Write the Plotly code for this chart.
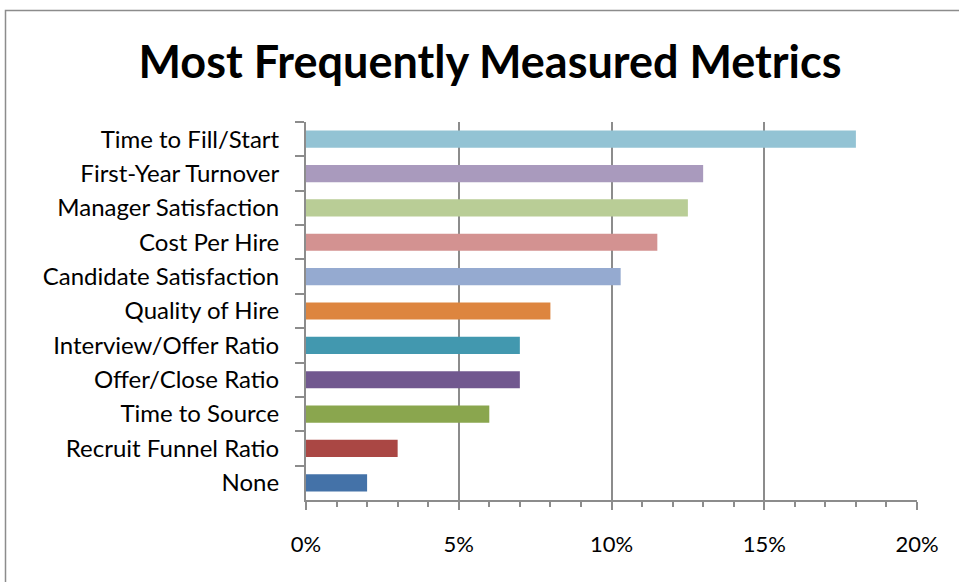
import plotly.graph_objects as go

categories = ["Time to Fill/Start", "First-Year Turnover", "Manager Satisfaction", "Cost Per Hire",
              "Candidate Satisfaction", "Quality of Hire", "Interview/Offer Ratio", "Offer/Close Ratio",
              "Time to Source", "Recruit Funnel Ratio", "None"]
values = [18.0, 13.0, 12.5, 11.5, 10.3, 8.0, 7.0, 7.0, 6.0, 3.0, 2.0]
colors = ["#93C3D4", "#A99ABD", "#B9CD96", "#D39291", "#95AAD0", "#DD853F",
          "#4298AF", "#71588F", "#8AA64E", "#AA4744", "#4472A8"]
tick_vals = [0, 5, 10, 15, 20]
tick_text = ["0%", "5%", "10%", "15%", "20%"]

W, H = 959, 582
L, R, T, B = 306, 42, 122, 82
pw, ph = W - L - R, H - T - B
FONT = "Lato, Carlito, Calibri, sans-serif"

fig = go.Figure(go.Bar(
    y=categories, x=values, orientation="h",
    marker=dict(color=colors, line=dict(width=0)),
    width=0.5,
))

def px_x(p):
    return (p - L) / pw

def px_y(p):
    return (H - B - p) / ph

fig.update_layout(
    width=W, height=H,
    margin=dict(l=L, r=R, t=T, b=B),
    paper_bgcolor="white", plot_bgcolor="white",
    font=dict(family=FONT, color="black", size=24),
    title=dict(text="<b>Most Frequently Measured Metrics</b>", x=490 / W, xref="container",
               xanchor="center", y=1 - 62 / H, yref="container", yanchor="middle",
               font=dict(size=45, family=FONT)),
    showlegend=False,
    xaxis=dict(range=[0, 20], tickvals=tick_vals, ticktext=tick_text,
               showgrid=True, gridcolor="#8C8C8C", gridwidth=2,
               showline=True, linecolor="#8C8C8C", linewidth=2,
               ticks="outside", ticklen=8, tickcolor="#8C8C8C", tickwidth=2,
               minor=dict(dtick=1, ticks="outside", ticklen=5, tickcolor="#8C8C8C", tickwidth=2, showgrid=False),
               ticklabelstandoff=16, zeroline=False,
               tickfont=dict(size=22)),
    yaxis=dict(autorange="reversed", type="category",
               showline=True, linecolor="#8C8C8C", linewidth=2,
               ticks="outside", ticklen=9, tickcolor="#8C8C8C", tickwidth=2,
               tickson="boundaries", showgrid=False, ticklabelstandoff=20,
               tickfont=dict(size=24)),
    shapes=[dict(type="rect", xref="paper", yref="paper",
                 x0=px_x(5.5), x1=px_x(W + 10), y0=px_y(H + 10), y1=px_y(10.5),
                 line=dict(color="#8C8C8C", width=1.5), fillcolor="rgba(0,0,0,0)", layer="below")],
)

fig.write_html("out.html")
